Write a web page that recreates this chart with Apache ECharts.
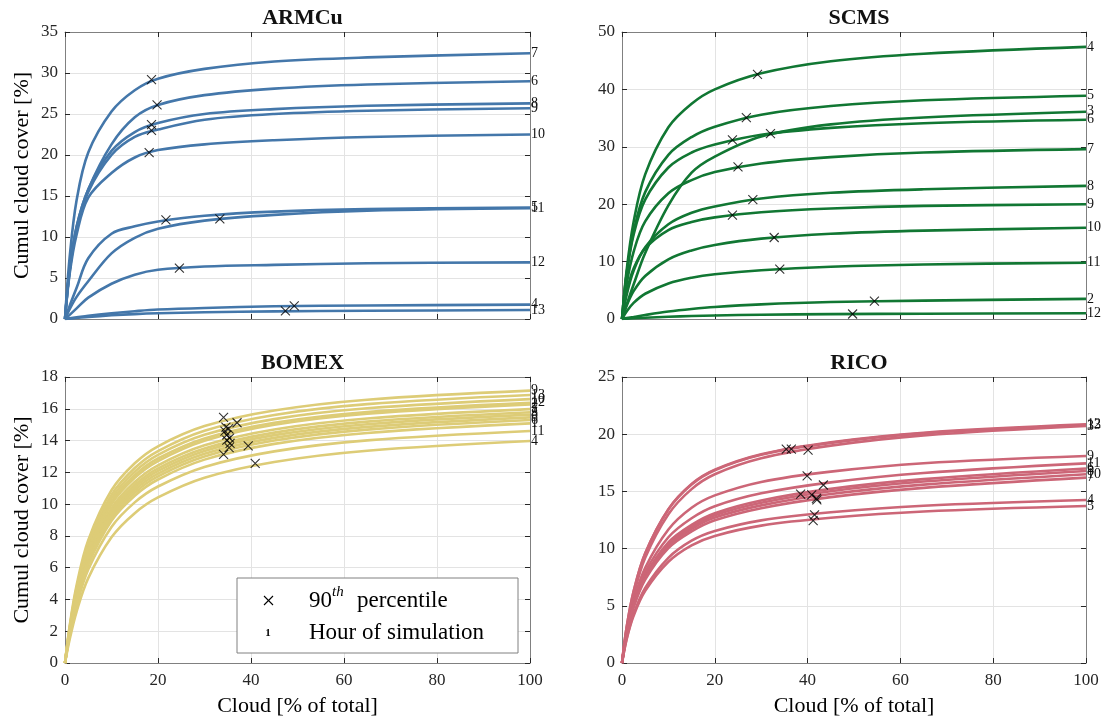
<!DOCTYPE html>
<html><head><meta charset="utf-8">
<script src="https://cdn.jsdelivr.net/npm/echarts@6/dist/echarts.min.js"></script>
<style>html,body{margin:0;padding:0;background:#fff}#c{width:1105px;height:720px}</style>
</head><body><div id="c"></div>
<script>
// ---- shared x positions (Cloud [% of total]) ----
const X_GRID = [0, 1, 2.5, 5, 10, 15, 20, 30, 45, 65, 100];
const X_TICKS = [0, 20, 40, 60, 80, 100];

// ---- ARMCu ----
const ARMCU_HOURS = [7, 6, 8, 9, 10, 5, 11, 12, 4, 13];
const ARMCU_CURVES = [
  [0, 7.5, 14.5, 20.3, 25.3, 27.9, 29.3, 30.5, 31.4, 31.9, 32.4],
  [0, 6.0, 11.3, 15.8, 21.3, 24.6, 26.1, 27.3, 28.1, 28.6, 29.0],
  [0, 6.0, 11.2, 15.8, 20.5, 22.8, 23.9, 25.0, 25.6, 26.0, 26.3],
  [0, 5.8, 11.0, 15.5, 20.0, 22.2, 23.1, 24.3, 25.0, 25.4, 25.7],
  [0, 5.5, 10.3, 14.8, 17.8, 19.7, 20.6, 21.3, 21.8, 22.2, 22.5],
  [0, 1.6, 3.8, 7.4, 10.4, 11.3, 11.9, 12.6, 13.1, 13.4, 13.6],
  [0, 1.2, 2.7, 4.6, 8.0, 9.9, 11.0, 12.0, 12.7, 13.2, 13.5],
  [0, 0.5, 1.3, 2.6, 4.3, 5.4, 6.0, 6.4, 6.6, 6.8, 6.9],
  [0, 0.08, 0.2, 0.4, 0.7, 0.95, 1.15, 1.35, 1.55, 1.65, 1.75],
  [0, 0.05, 0.12, 0.25, 0.45, 0.6, 0.7, 0.82, 0.93, 1.0, 1.1]
];
const ARMCU_P90_X = [18.6, 19.8, 18.6, 18.6, 18.1, 21.7, 33.3, 24.6, 49.3, 47.4];
const ARMCU_P90_Y = [29.2, 26.1, 23.7, 23.0, 20.3, 12.1, 12.2, 6.2, 1.6, 1.0];
const ARMCU_Y_TICKS = [0, 5, 10, 15, 20, 25, 30, 35];

// ---- SCMS ----
const SCMS_HOURS = [4, 5, 3, 6, 7, 8, 9, 10, 11, 2, 12];
const SCMS_CURVES = [
  [0, 8.5, 16.9, 25.2, 33.4, 37.5, 40.0, 42.8, 44.9, 46.2, 47.4],
  [0, 7.9, 15.2, 22.1, 28.6, 31.7, 33.5, 35.6, 37.1, 38.1, 38.9],
  [0, 2.5, 6.0, 11.5, 19.8, 25.5, 28.3, 31.8, 33.9, 35.1, 36.1],
  [0, 7.8, 14.7, 20.8, 26.4, 29.0, 30.4, 32.1, 33.3, 34.1, 34.7],
  [0, 6.1, 11.7, 17.0, 21.9, 24.2, 25.6, 27.1, 28.2, 29.0, 29.6],
  [0, 4.2, 8.4, 12.5, 16.5, 18.5, 19.6, 21.0, 22.0, 22.6, 23.2],
  [0, 4.7, 8.8, 12.3, 15.5, 16.9, 17.7, 18.6, 19.25, 19.7, 20.0],
  [0, 2.3, 4.85, 7.5, 10.4, 11.95, 12.9, 14.0, 14.85, 15.4, 15.9],
  [0, 1.3, 2.8, 4.4, 6.2, 7.2, 7.8, 8.5, 9.1, 9.5, 9.8],
  [0, 0.15, 0.35, 0.7, 1.3, 1.75, 2.1, 2.55, 2.95, 3.2, 3.5],
  [0, 0.05, 0.12, 0.22, 0.4, 0.52, 0.62, 0.74, 0.85, 0.92, 1.0]
];
const SCMS_P90_X = [29.2, 26.8, 32.0, 23.8, 25.0, 28.2, 23.8, 32.8, 34.0, 54.4, 49.7];
const SCMS_P90_Y = [42.6, 35.1, 32.3, 31.2, 26.5, 20.8, 18.1, 14.2, 8.7, 3.1, 0.87];
const SCMS_Y_TICKS = [0, 10, 20, 30, 40, 50];

// ---- BOMEX ----
const BOMEX_HOURS = [9, 13, 10, 12, 2, 7, 3, 8, 5, 6, 1, 11, 4];
const BOMEX_CURVES = [
  [0, 2.33, 4.90, 7.73, 10.87, 12.57, 13.64, 14.91, 15.89, 16.57, 17.14],
  [0, 2.24, 4.73, 7.49, 10.58, 12.27, 13.34, 14.62, 15.61, 16.29, 16.87],
  [0, 2.18, 4.61, 7.32, 10.36, 12.04, 13.10, 14.36, 15.35, 16.03, 16.61],
  [0, 2.13, 4.50, 7.16, 10.16, 11.82, 12.87, 14.13, 15.12, 15.80, 16.38],
  [0, 2.07, 4.39, 7.00, 9.99, 11.65, 12.71, 13.99, 14.99, 15.69, 16.28],
  [0, 2.01, 4.26, 6.82, 9.75, 11.39, 12.44, 13.70, 14.70, 15.39, 15.98],
  [0, 1.96, 4.17, 6.68, 9.58, 11.20, 12.25, 13.50, 14.50, 15.19, 15.78],
  [0, 1.91, 4.09, 6.56, 9.43, 11.05, 12.09, 13.35, 14.34, 15.03, 15.63],
  [0, 1.87, 4.00, 6.44, 9.28, 10.89, 11.92, 13.17, 14.17, 14.86, 15.46],
  [0, 1.83, 3.91, 6.32, 9.12, 10.72, 11.75, 13.00, 14.00, 14.69, 15.29],
  [0, 1.78, 3.82, 6.18, 8.95, 10.53, 11.55, 12.80, 13.79, 14.48, 15.08],
  [0, 1.68, 3.62, 5.88, 8.56, 10.11, 11.11, 12.34, 13.32, 14.01, 14.60],
  [0, 1.48, 3.24, 5.34, 7.91, 9.43, 10.42, 11.66, 12.65, 13.36, 13.97]
];
const BOMEX_P90_X = [34.1, 37.0, 34.6, 35.2, 34.4, 34.8, 35.4, 34.8, 39.4, 35.5, 35.3, 34.1, 40.9];
const BOMEX_P90_Y = [15.46, 15.12, 14.85, 14.75, 14.6, 14.35, 14.15, 14.03, 13.66, 13.82, 13.55, 13.13, 12.57];
const BOMEX_Y_TICKS = [0, 2, 4, 6, 8, 10, 12, 14, 16, 18];

// ---- RICO ----
const RICO_HOURS = [12, 13, 3, 9, 11, 6, 8, 10, 7, 4, 5];
const RICO_CURVES = [
  [0, 3.13, 6.26, 9.60, 13.45, 15.65, 16.90, 18.25, 19.30, 20.13, 20.86],
  [0, 3.12, 6.24, 9.57, 13.42, 15.60, 16.85, 18.20, 19.24, 20.07, 20.80],
  [0, 2.90, 5.90, 9.20, 13.00, 15.20, 16.50, 17.90, 19.00, 19.90, 20.72],
  [0, 2.71, 5.43, 8.32, 11.67, 13.57, 14.65, 15.83, 16.73, 17.46, 18.09],
  [0, 2.62, 5.24, 7.94, 10.99, 12.65, 13.70, 14.83, 15.79, 16.61, 17.45],
  [0, 2.55, 5.10, 7.65, 10.54, 12.07, 13.09, 14.20, 15.22, 16.07, 17.00],
  [0, 2.52, 5.03, 7.55, 10.40, 11.91, 12.92, 14.01, 15.02, 15.86, 16.78],
  [0, 2.48, 4.95, 7.43, 10.23, 11.72, 12.71, 13.78, 14.77, 15.59, 16.50],
  [0, 2.43, 4.86, 7.29, 10.04, 11.50, 12.47, 13.53, 14.50, 15.31, 16.20],
  [0, 2.14, 4.28, 6.56, 9.19, 10.69, 11.54, 12.47, 13.18, 13.75, 14.25],
  [0, 2.06, 4.12, 6.31, 8.85, 10.29, 11.11, 12.01, 12.69, 13.24, 13.72]
];
const RICO_P90_X = [35.4, 36.5, 40.1, 39.9, 43.4, 38.5, 40.9, 41.9, 42.0, 41.5, 41.2];
const RICO_P90_Y = [18.7, 18.7, 18.6, 16.35, 15.56, 14.77, 14.69, 14.4, 14.25, 12.94, 12.44];
const RICO_Y_TICKS = [0, 5, 10, 15, 20, 25];

const TITLES = ['ARMCu', 'SCMS', 'BOMEX', 'RICO'];
const COLORS = ['#4477AA', '#117733', '#DDCC77', '#CC6677'];
const X_NAME = 'Cloud [% of total]';
const Y_NAME = 'Cumul cloud cover [%]';
const LEGEND_LABELS = ['90', 'th', 'percentile', 'Hour of simulation', '1'];

const SERIF = "'Liberation Serif', 'DejaVu Serif', serif";
const XPATH = 'path://M0,0L10,10M10,0L0,10';

const GRIDS = [
  {left: 65, top: 32, width: 465, height: 287},
  {left: 622, top: 32, width: 464, height: 287},
  {left: 65, top: 377, width: 465, height: 286},
  {left: 622, top: 377, width: 464, height: 286}
];
const YTICKS = [ARMCU_Y_TICKS, SCMS_Y_TICKS, BOMEX_Y_TICKS, RICO_Y_TICKS];
const PANELS = [
  [ARMCU_HOURS, ARMCU_CURVES, ARMCU_P90_X, ARMCU_P90_Y],
  [SCMS_HOURS, SCMS_CURVES, SCMS_P90_X, SCMS_P90_Y],
  [BOMEX_HOURS, BOMEX_CURVES, BOMEX_P90_X, BOMEX_P90_Y],
  [RICO_HOURS, RICO_CURVES, RICO_P90_X, RICO_P90_Y]
];

function axisLine() { return {show: true, onZero: false, lineStyle: {color: '#808080', width: 1}}; }
function axisTick() { return {show: true, inside: true, length: 5, lineStyle: {color: '#262626', width: 1}}; }
function split(show) { return {show: show, lineStyle: {color: '#e3e3e3', width: 1}}; }
function label(show, margin) { return {show: show, inside: false, margin: margin, color: '#262626', fontFamily: SERIF, fontSize: 17}; }

const xAxis = [], yAxis = [], series = [], title = [];
GRIDS.forEach((g, i) => {
  const yt = YTICKS[i];
  const yMin = yt[0], yMax = yt[yt.length - 1], yInt = yt[1] - yt[0];
  xAxis.push({type: 'value', gridIndex: i, position: 'bottom', min: X_TICKS[0], max: X_TICKS[X_TICKS.length - 1],
    interval: X_TICKS[1] - X_TICKS[0], axisLine: axisLine(), axisTick: axisTick(), splitLine: split(true),
    axisLabel: label(i >= 2, 9),
    name: i >= 2 ? X_NAME : '', nameLocation: 'middle', nameGap: 32,
    nameTextStyle: {fontFamily: SERIF, fontSize: 22, color: '#000'}});
  xAxis.push({type: 'value', gridIndex: i, position: 'top', min: X_TICKS[0], max: X_TICKS[X_TICKS.length - 1],
    interval: X_TICKS[1] - X_TICKS[0], axisLine: axisLine(), axisTick: axisTick(), splitLine: split(false),
    axisLabel: {show: false}});
  yAxis.push({type: 'value', gridIndex: i, position: 'left', min: yMin, max: yMax, interval: yInt,
    axisLine: axisLine(), axisTick: axisTick(), splitLine: split(true),
    axisLabel: label(true, 7),
    name: (i % 2 === 0) ? Y_NAME : '', nameLocation: 'middle', nameGap: 32,
    nameTextStyle: {fontFamily: SERIF, fontSize: 22, color: '#000'}});
  yAxis.push({type: 'value', gridIndex: i, position: 'right', min: yMin, max: yMax, interval: yInt,
    axisLine: axisLine(), axisTick: axisTick(), splitLine: split(false), axisLabel: {show: false}});
  title.push({text: TITLES[i], left: g.left + g.width / 2, top: g.top - 30, textAlign: 'center',
    textStyle: {fontFamily: SERIF, fontSize: 22, fontWeight: 'bold', color: '#111'}});

  const [hours, curves, px, py] = PANELS[i];
  hours.forEach((h, k) => {
    series.push({
      type: 'line', xAxisIndex: i * 2, yAxisIndex: i * 2,
      data: X_GRID.map((x, j) => [x, curves[k][j]]),
      smooth: 0.35, showSymbol: false, symbol: 'none', silent: true,
      lineStyle: {color: COLORS[i], width: 2.6}, itemStyle: {color: COLORS[i]},
      endLabel: {show: true, formatter: String(h), color: '#111', fontFamily: SERIF, fontSize: 14, distance: 1},
      z: 2
    });
  });
  series.push({
    type: 'scatter', xAxisIndex: i * 2, yAxisIndex: i * 2,
    data: px.map((x, k) => [x, py[k]]), symbol: XPATH, symbolSize: 9, silent: true,
    itemStyle: {color: 'none', borderColor: '#000', borderWidth: 1.1}, z: 5
  });
});

const graphic = [
  {type: 'rect', shape: {x: 237, y: 578, width: 281, height: 75}, style: {fill: '#fff', stroke: '#808080', lineWidth: 1}, z: 100},
  {type: 'line', shape: {x1: 264, y1: 596, x2: 273, y2: 605}, style: {stroke: '#000', lineWidth: 1.1}, z: 101},
  {type: 'line', shape: {x1: 273, y1: 596, x2: 264, y2: 605}, style: {stroke: '#000', lineWidth: 1.1}, z: 101},
  {type: 'text', x: 268, y: 633, style: {text: LEGEND_LABELS[4], fontFamily: SERIF, fontSize: 11, fontWeight: 'bold', fill: '#000', align: 'center', verticalAlign: 'middle'}, z: 101},
  {type: 'text', x: 309, y: 601, style: {text: LEGEND_LABELS[0], fontFamily: SERIF, fontSize: 23, fill: '#000', align: 'left', verticalAlign: 'middle'}, z: 101},
  {type: 'text', x: 332, y: 592, style: {text: LEGEND_LABELS[1], fontFamily: SERIF, fontSize: 15, fontStyle: 'italic', fill: '#000', align: 'left', verticalAlign: 'middle'}, z: 101},
  {type: 'text', x: 357, y: 601, style: {text: LEGEND_LABELS[2], fontFamily: SERIF, fontSize: 23, fill: '#000', align: 'left', verticalAlign: 'middle'}, z: 101},
  {type: 'text', x: 309, y: 633, style: {text: LEGEND_LABELS[3], fontFamily: SERIF, fontSize: 23, fill: '#000', align: 'left', verticalAlign: 'middle'}, z: 101}
];

const chart = echarts.init(document.getElementById('c'), null, {renderer: 'canvas'});
chart.setOption({
  animation: false,
  backgroundColor: '#fff',
  title, grid: GRIDS, xAxis, yAxis, series, graphic
});
</script>
</body></html>
